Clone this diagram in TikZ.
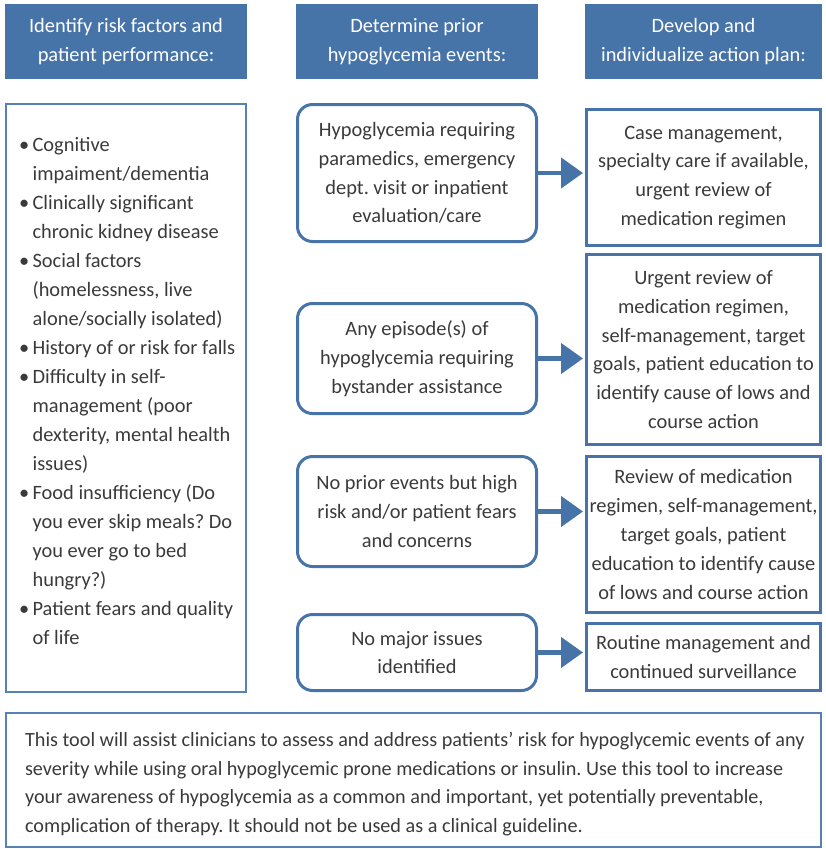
\documentclass[tikz,border=0pt]{standalone}
\usepackage{fontspec}
\setmainfont{Carlito}
\usepackage{xcolor}
\definecolor{hdrblue}{HTML}{4674A8}
\definecolor{lineblue}{HTML}{5681B4}
\definecolor{txtgray}{HTML}{3A3A3A}
\usepackage{tikz}
\usetikzlibrary{positioning,arrows.meta}
\newcommand{\riskbullet}{\makebox[13.5pt][l]{\textbullet}}
\newcommand{\riskindent}{\hspace*{13.5pt}}
\frenchspacing

\begin{document}
\begin{tikzpicture}[x=1pt,y=-1pt,
	every node/.style={font=\fontsize{20.4}{28.8}\selectfont, text=txtgray, inner sep=0pt},
	header/.style={fill=hdrblue, text=white, align=center, minimum width=242pt, minimum height=75pt},
	riskbox/.style={draw=lineblue, line width=2.2pt, minimum width=240pt, minimum height=588pt},
	eventbox/.style={draw=hdrblue, line width=3pt, rounded corners=15pt, align=center, minimum width=239pt},
	planbox/.style={draw=hdrblue, line width=3pt, align=center, minimum width=234pt},
	notebox/.style={draw=lineblue, line width=2.2pt, minimum width=815pt, minimum height=134pt},
	flow/.style={draw=hdrblue, line width=4.5pt, -{Triangle[length=22pt,width=30pt]}, shorten >=2pt}]
	\useasboundingbox (0,0) rectangle (826,849);
	
	% headers
	\node[header] (hrisk) at (126,41.5) {Identify risk factors and\\patient performance:};
	\node[header] (hevent) at (417,41.5) {Determine prior\\hypoglycemia events:};
	\node[header, minimum width=237pt] (hplan) at (703.5,41.5) {Develop and\\individualize action plan:};
	
	% risk factors
	\node[riskbox] (risk) at (126,398) {};
	\node[below right=34pt and 14pt of risk.north west, align=left, font=\fontsize{20.4}{29}\selectfont] (risklist) {\riskbullet Cognitive\\\riskindent impaiment/dementia\\
		\riskbullet Clinically significant\\\riskindent chronic kidney disease\\
		\riskbullet Social factors\\\riskindent (homelessness, live\\\riskindent alone/socially isolated)\\
		\riskbullet History of or risk for falls\\
		\riskbullet Difficulty in self-\\\riskindent management (poor\\\riskindent dexterity, mental health\\\riskindent issues)\\
		\riskbullet Food insufficiency (Do\\\riskindent you ever skip meals? Do\\\riskindent you ever go to bed\\\riskindent hungry?)\\
		\riskbullet Patient fears and quality\\\riskindent of life};
	
	% prior events
	\node[eventbox, minimum height=137pt] (ev1) at (417,173) {Hypoglycemia requiring\\paramedics, emergency\\dept. visit or inpatient\\evaluation/care};
	\node[eventbox, minimum height=110pt] (ev2) at (417,358.5) {Any episode(s) of\\hypoglycemia requiring\\bystander assistance};
	\node[eventbox, minimum height=110pt] (ev3) at (417,511.5) {No prior events but high\\risk and/or patient fears\\and concerns};
	\node[eventbox, minimum height=76pt] (ev4) at (417,652.5) {No major issues\\identified};
	
	% action plans
	\node[planbox, minimum height=136pt] (plan1) at (703.5,177.5) {Case management,\\specialty care if available,\\urgent review of\\medication regimen};
	\node[planbox, minimum height=190pt] (plan2) at (703.5,349.5) {Urgent review of\\medication regimen,\\self-management, target\\goals, patient education to\\identify cause of lows and\\course action};
	\node[planbox, minimum height=156pt] (plan3) at (703.5,534.5) {Review of medication\\regimen, self-management,\\target goals, patient\\education to identify cause\\of lows and course action};
	\node[planbox, minimum height=67pt] (plan4) at (703.5,657) {Routine management and\\continued surveillance};
	
	% arrows
	\draw[flow] (ev1.east) -- (ev1.east -| plan1.west);
	\draw[flow] (ev2.east) -- (ev2.east -| plan2.west);
	\draw[flow] (ev3.east) -- (ev3.east -| plan3.west);
	\draw[flow] (ev4.east) -- (ev4.east -| plan4.west);
	
	% note
	\node[notebox] (note) at (413.5,780) {};
	\node[below right=20pt and 20pt of note.north west, align=left, font=\fontsize{20.2}{28.7}\selectfont] (notetext) {This tool will assist clinicians to assess and address patients’ risk for hypoglycemic events of any\\severity while using oral hypoglycemic prone medications or insulin. Use this tool to increase\\your awareness of hypoglycemia as a common and important, yet potentially preventable,\\complication of therapy. It should not be used as a clinical guideline.};
\end{tikzpicture}
\end{document}
